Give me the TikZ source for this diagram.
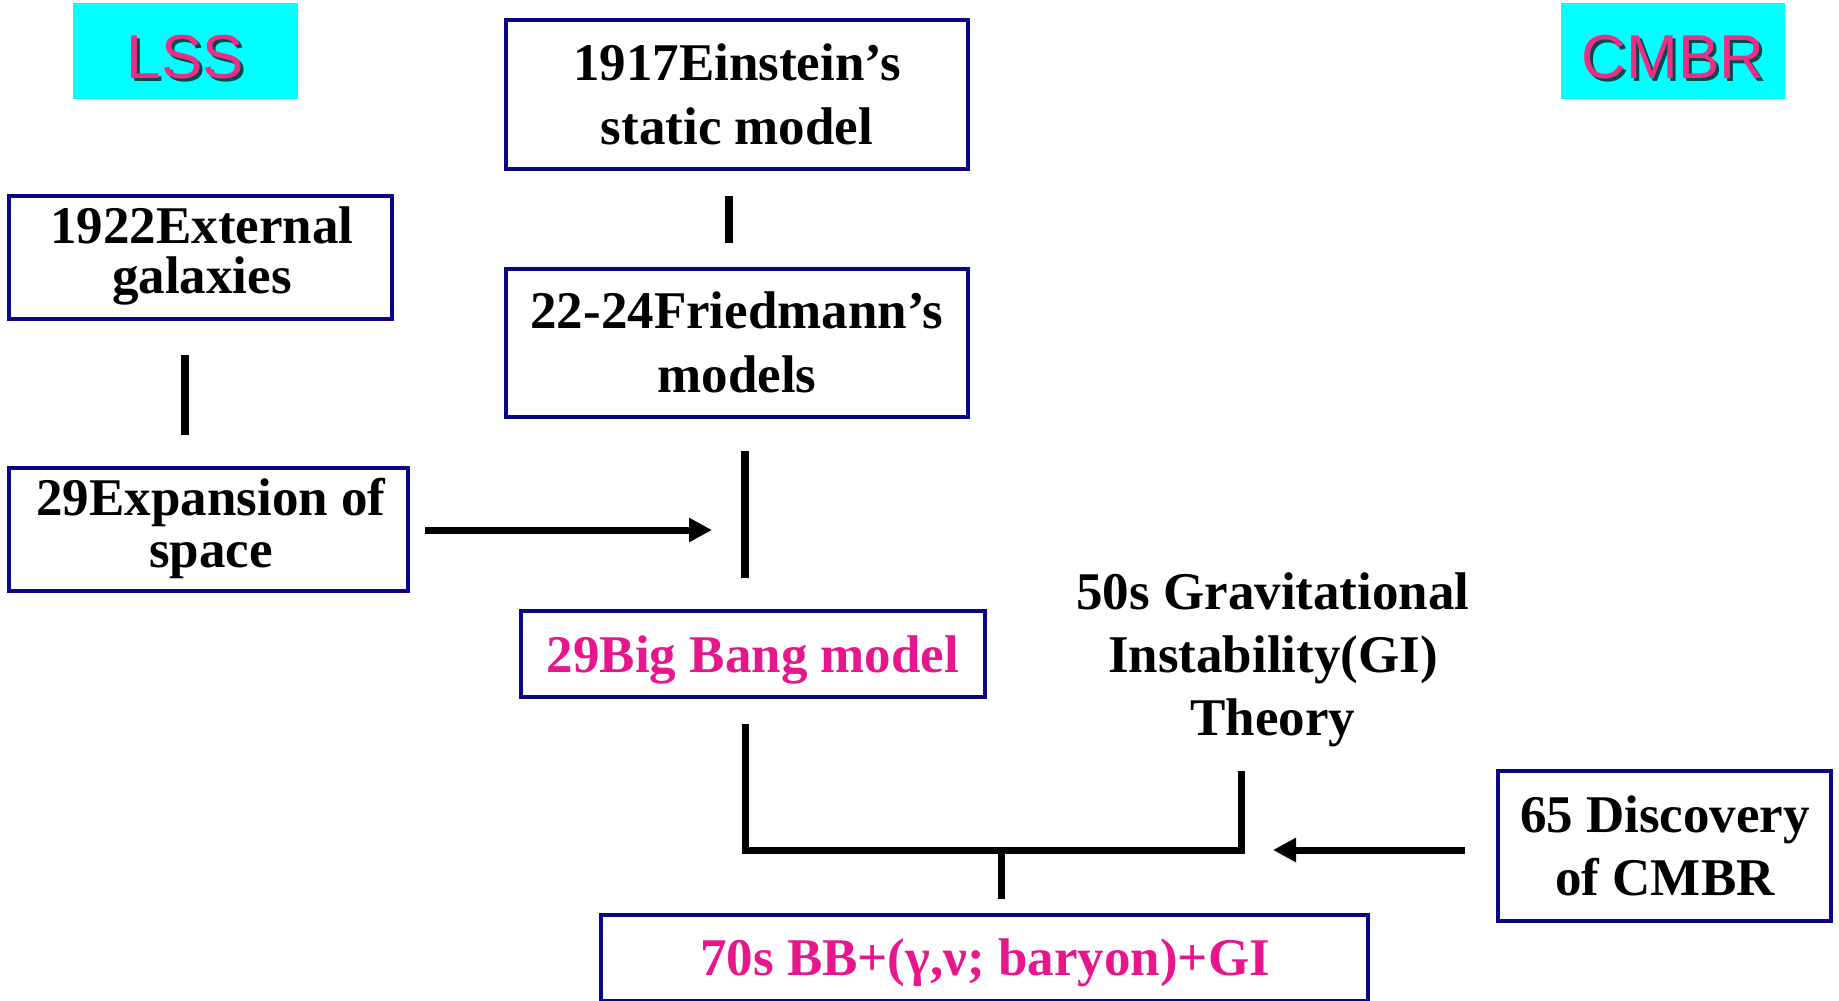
\documentclass[tikz,border=0pt]{standalone}
\usepackage{fontspec}
\setmainfont{Liberation Serif}
\newfontfamily\tagfont{Liberation Sans}
\usetikzlibrary{arrows.meta}

\definecolor{boxblue}{RGB}{8,8,135}
\definecolor{tagcyan}{RGB}{0,255,255}
\definecolor{tagpink}{RGB}{238,46,132}
\definecolor{textpink}{RGB}{232,22,140}

% centred lines stacked in a \vtop, so the baseline is that of the first line
\newcommand\stacklines[1]{\vtop{\halign{\hfil##\hfil\cr#1\crcr}}}

\begin{document}
\begin{tikzpicture}[
  x=1pt, y=-1pt,
  box/.style={draw=boxblue, line width=4pt, fill=white, inner sep=0pt},
  tag/.style={fill=tagcyan, draw=none, inner sep=0pt},
  tagtext/.style={anchor=base, inner sep=0pt, text=tagpink,
    font=\tagfont\fontsize{62}{70}\selectfont},
  tagshadow/.style={tagtext, text=black, opacity=0.7},
  txt/.style={anchor=base, inner sep=0pt,
    font=\fontsize{53}{#1}\selectfont\bfseries},
  txt/.default=64,
  link/.style={line width=8pt},
  bracket/.style={line width=7pt, line join=miter},
  arrowline/.style={line width=7pt, -{Triangle[length=23pt,width=23pt]}}
]
\useasboundingbox (0,0) rectangle (1839,1001);

% column headers
\node[tag, minimum width=225pt, minimum height=96pt] (lss) at (185.5,51) {};
\node[tagshadow] (lss-shadow) at (188.5,81) {LSS};
\node[tagtext] (lss-label) at (185.5,78) {LSS};

\node[tag, minimum width=224pt, minimum height=96pt] (cmbr) at (1673,51) {};
\node[tagshadow] (cmbr-shadow) at (1676,81) {CMBR};
\node[tagtext] (cmbr-label) at (1673,78) {CMBR};

% boxes
\node[box, minimum width=462pt, minimum height=149pt] (einstein) at (737,94.5) {};
\node[txt] (einstein-text) at (737,80) {\stacklines{1917Einstein’s\cr static model}};

\node[box, minimum width=462pt, minimum height=148pt] (friedmann) at (737,343) {};
\node[txt] (friedmann-text) at (737,328) {\stacklines{22-24Friedmann’s\cr models}};

\node[box, minimum width=383pt, minimum height=123pt] (galaxies) at (200.5,257.5) {};
\node[txt=50] (galaxies-text) at (202,243) {\stacklines{1922External\cr galaxies}};

\node[box, minimum width=399pt, minimum height=123pt] (expansion) at (208.5,529.5) {};
\node[txt=52] (expansion-text) at (211,515) {\stacklines{29Expansion of\cr space}};

\node[box, minimum width=464pt, minimum height=86pt] (bigbang) at (753,654) {};
\node[txt, text=textpink] (bigbang-text) at (753,672) {29Big Bang model};

\node[txt=63] (gi-text) at (1273,609)
  {\stacklines{50s Gravitational\cr Instability(GI)\cr Theory}};

\node[box, minimum width=333pt, minimum height=150pt] (discovery) at (1664.5,846) {};
\node[txt=63] (discovery-text) at (1665,832) {\stacklines{65 Discovery\cr of CMBR}};

\node[box, minimum width=767pt, minimum height=86pt] (bbgi) at (984.5,958) {};
\node[txt, text=textpink] (bbgi-text) at (985,975) {70s BB+(γ,ν; baryon)+GI};

% connector end points
\coordinate (ef-top) at (729,196);
\coordinate (ef-bot) at (729,243);
\coordinate (ge-top) at (185,355);
\coordinate (ge-bot) at (185,435);
\coordinate (fb-top) at (745,451);
\coordinate (fb-bot) at (745,578);
\coordinate (exp-out) at (425,530);
\coordinate (exp-in) at (712,530);
\coordinate (br-left) at (745,724);
\coordinate (br-right) at (1241,771);
\coordinate (br-mid) at (1001,850);
\coordinate (br-stem) at (1001,899);
\coordinate (cmb-out) at (1465,850);
\coordinate (cmb-in) at (1273,850);

% connectors
\draw[link] (ef-top) -- (ef-bot);
\draw[link] (ge-top) -- (ge-bot);
\draw[link] (fb-top) -- (fb-bot);
\draw[arrowline] (exp-out) -- (exp-in);
\draw[bracket] (br-left) |- (br-mid) -| (br-right);
\draw[bracket] (br-mid) -- (br-stem);
\draw[arrowline] (cmb-out) -- (cmb-in);
\end{tikzpicture}
\end{document}
